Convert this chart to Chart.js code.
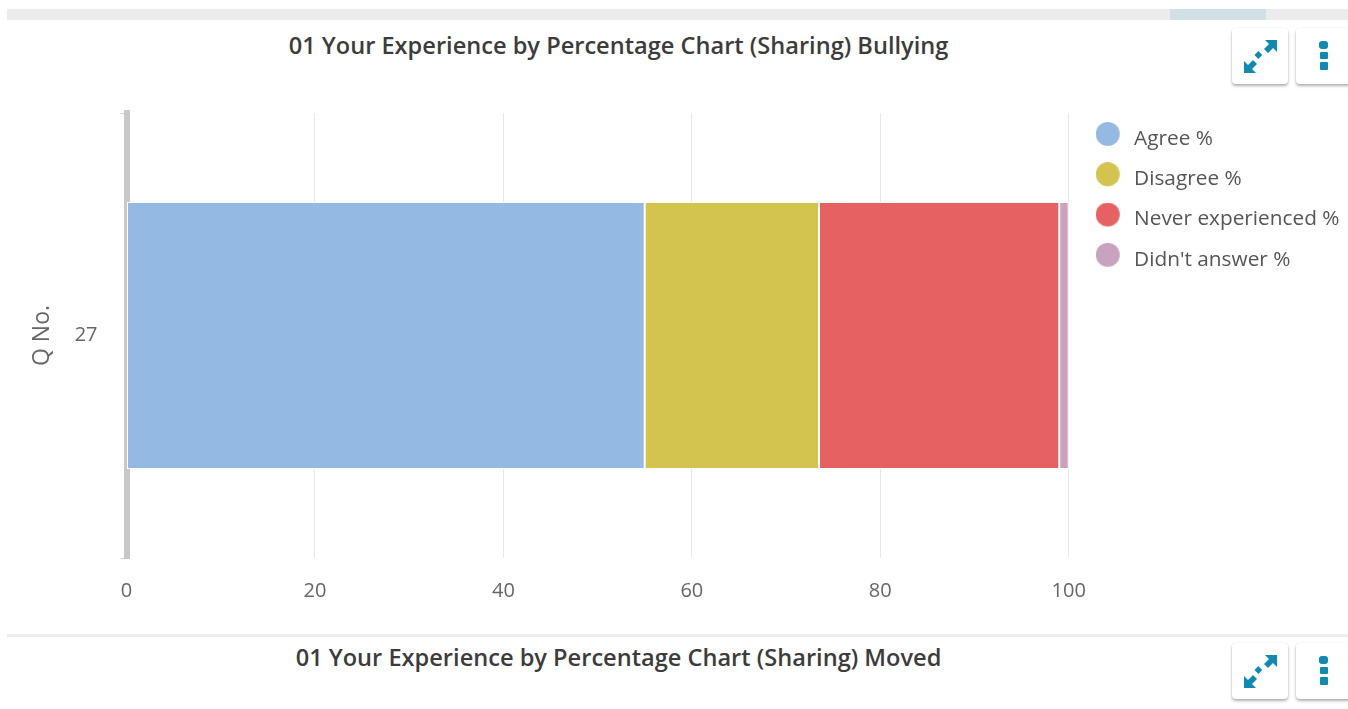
<!DOCTYPE html>
<html><head><meta charset="utf-8">
<script src="https://cdn.jsdelivr.net/npm/chart.js@4"></script>
<style>
html,body{margin:0;padding:0;background:#fff;width:1348px;height:709px;overflow:hidden;font-family:"Open Sans",sans-serif}
body{filter:blur(0.4px)}
.abs{position:absolute}
#band{left:7px;top:9px;width:1341px;height:11px;background:#ececec}
#thumb{left:1170px;top:9px;width:96px;height:11px;background:#cfe0e6}
#sep{left:7px;top:634px;width:1341px;height:3px;background:#ececec}
.title{font-weight:600;font-size:23.6px;color:#3c3c3c;white-space:nowrap;transform:translateX(-50%);line-height:30px}
.btn{width:56px;height:56px;background:#fff;border-radius:4px;box-shadow:0 2px 3px rgba(0,0,0,.3),0 0 2px rgba(0,0,0,.08)}
.btn svg{position:absolute;left:0;top:0}
#wrap{left:0;top:0;width:1348px;height:632px}
</style></head><body>
<div class="abs" id="band"></div><div class="abs" id="thumb"></div>
<div class="abs" id="sep"></div>
<div class="abs title" style="left:618.5px;top:30px">01 Your Experience by Percentage Chart (Sharing) Bullying</div>
<div class="abs title" style="left:618.5px;top:642px">01 Your Experience by Percentage Chart (Sharing) Moved</div>
<div class="abs" id="wrap"><canvas id="c" width="1348" height="632"></canvas></div>
<script>
const categories = ["27"];
const seriesNames = ["Agree %", "Disagree %", "Never experienced %", "Didn't answer %"];
const agree = [55];
const disagree = [18.5];
const neverExperienced = [25.5];
const didntAnswer = [1];
const seriesColors = ["#94b9e2", "#d3c44f", "#e66262", "#c8a2bf"];
const xTicks = [0, 20, 40, 60, 80, 100];
const allSeries = [agree, disagree, neverExperienced, didntAnswer];

const expandIcon = '<svg width="56" height="56" viewBox="0 0 56 56" fill="#0f8ab2"><path d="M33 12h12v12l-4-4-5 5-4-4 5-5z"/><rect x="23.5" y="24" width="5.5" height="5.5" transform="rotate(45 26 27)"/><path d="M12 45V33l4 4 5-5 4 4-5 5 4 4z"/></svg>';
const dotsIcon = '<svg width="56" height="56" viewBox="0 0 56 56" fill="#0f8ab2"><rect x="23" y="13" width="9" height="8" rx="3"/><rect x="24" y="24" width="8" height="7" rx="1"/><rect x="24" y="34" width="8" height="8" rx="1"/></svg>';
[[1232,28,expandIcon],[1296,28,dotsIcon],[1232,643,expandIcon],[1296,643,dotsIcon]].forEach(([l,t,s])=>{
  const d=document.createElement('div');d.className='abs btn';d.style.left=l+'px';d.style.top=t+'px';d.innerHTML=s;document.body.appendChild(d);
});

// legend marker: a 24px disc sitting above and left of the label's centre line
function marker(color) {
  const m = document.createElement('canvas');
  m.width = 28; m.height = 34;
  const g = m.getContext('2d');
  g.fillStyle = color;
  g.beginPath(); g.arc(12, 12, 12, 0, Math.PI * 2); g.fill();
  return m;
}

const FONT = '"Open Sans", sans-serif';
new Chart(document.getElementById('c'), {
  type: 'bar',
  data: {
    labels: categories,
    datasets: seriesNames.map((n, i) => ({
      label: n, data: allSeries[i], backgroundColor: seriesColors[i],
      borderColor: '#ffffff', borderWidth: 1, borderSkipped: false,
      categoryPercentage: 0.6, barPercentage: 1
    }))
  },
  plugins: [{
    id: 'placeLegend',
    afterLayout(chart) { chart.legend.left = 1076.2; chart.legend.top = 109; }
  }],
  options: {
    indexAxis: 'y', responsive: false, animation: false,
    layout: { padding: { top: 113, left: 28.5, right: 6, bottom: 0 } },
    scales: {
      x: {
        stacked: true, min: 0, max: 100,
        afterBuildTicks: s => { s.ticks = xTicks.map(v => ({ value: v })); },
        afterFit: s => { s.height = 74; },
        grid: { color: '#e8e8e8', lineWidth: 1, drawTicks: false },
        border: { display: false },
        ticks: { color: '#666', font: { family: FONT, size: 20 }, padding: 21, maxRotation: 0 }
      },
      y: {
        stacked: true,
        afterFit: s => { s.width = 98; },
        grid: { drawOnChartArea: false, color: '#c5d3ee', tickLength: 6, offset: true },
        border: { display: true, color: '#c8c8c8', width: 6 },
        ticks: { color: '#666', font: { family: FONT, size: 20 }, padding: 23 },
        title: { display: true, text: 'Q No.', color: '#666', font: { family: FONT, size: 23 }, padding: { top: 0, bottom: 0 } }
      }
    },
    plugins: {
      title: { display: false },
      tooltip: { enabled: false },
      legend: {
        position: 'right', align: 'start',
        labels: {
          usePointStyle: true, pointStyleWidth: 28, padding: 19.5, color: '#555',
          font: { family: FONT, size: 20.8 },
          generateLabels(chart) {
            return Chart.defaults.plugins.legend.labels.generateLabels(chart)
              .map((l, i) => ({ ...l, pointStyle: marker(seriesColors[i]) }));
          }
        }
      }
    }
  }
});
</script></body></html>
